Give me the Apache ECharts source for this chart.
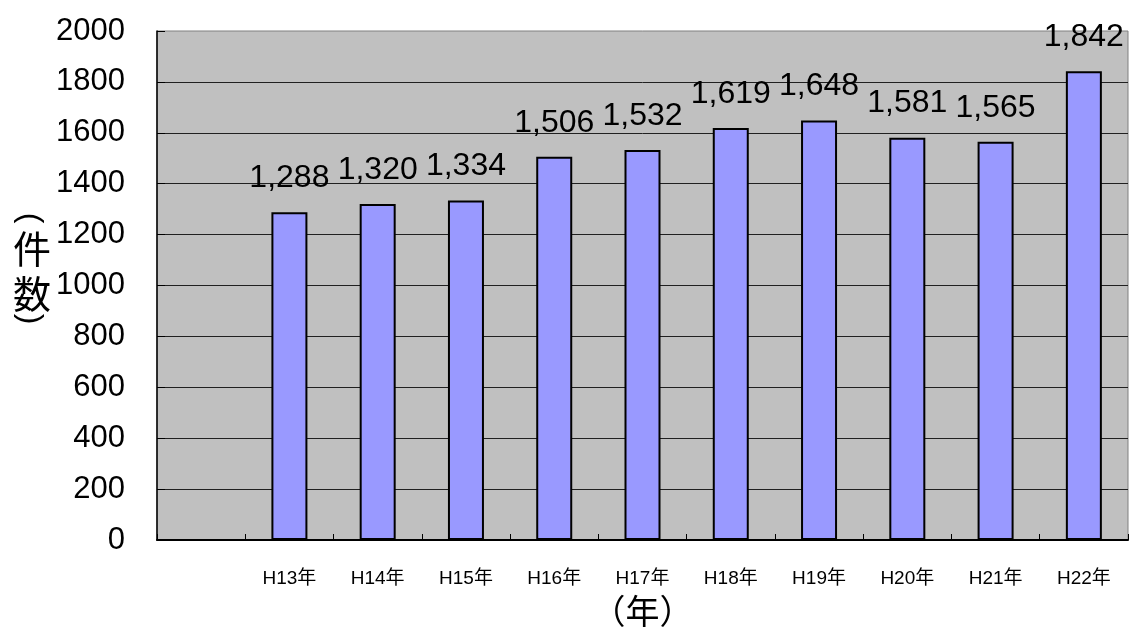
<!DOCTYPE html>
<html>
<head>
<meta charset="utf-8">
<script src="https://cdn.jsdelivr.net/npm/echarts@6/dist/echarts.min.js"></script>
<style>
html,body{margin:0;padding:0;background:#fff;}
#c{width:1130px;height:628px;}
</style>
</head>
<body>
<div id="c"></div>
<script>
const categories = ['', 'H13年', 'H14年', 'H15年', 'H16年', 'H17年', 'H18年', 'H19年', 'H20年', 'H21年', 'H22年'];
const counts = [null, 1288, 1320, 1334, 1506, 1532, 1619, 1648, 1581, 1565, 1842];
const yTicks = { min: 0, max: 2000, interval: 200 };
const xAxisTitle = '（年）';
const yAxisTitleWord = ['件', '数'];
const yAxisTitleParens = ['(', ')'];

const FONT = "'Liberation Sans', 'Noto Sans CJK JP', sans-serif";
const chart = echarts.init(document.getElementById('c'), null, { renderer: 'canvas' });

const titleGraphics = [
  { type: 'text', x: 30, y: 218, rotation: -Math.PI / 2,
    style: { text: yAxisTitleParens[0], fill: '#000', font: "32px 'Liberation Sans', sans-serif", align: 'center', verticalAlign: 'middle' } },
  { type: 'text', x: 32, y: 249,
    style: { text: yAxisTitleWord[0], fill: '#000', font: "38px 'Noto Sans CJK JP', sans-serif", align: 'center', verticalAlign: 'middle' } },
  { type: 'text', x: 32, y: 294,
    style: { text: yAxisTitleWord[1], fill: '#000', font: "38px 'Noto Sans CJK JP', sans-serif", align: 'center', verticalAlign: 'middle' } },
  { type: 'text', x: 30, y: 319, rotation: -Math.PI / 2,
    style: { text: yAxisTitleParens[1], fill: '#000', font: "32px 'Liberation Sans', sans-serif", align: 'center', verticalAlign: 'middle' } }
];

chart.setOption({
  animation: false,
  backgroundColor: '#ffffff',
  grid: {
    left: 157, right: 2, top: 31, bottom: 88,
    show: true, backgroundColor: '#C0C0C0', borderColor: '#808080', borderWidth: 1,
    containLabel: false,
    outerBoundsMode: 'none'
  },
  xAxis: {
    type: 'category',
    data: categories,
    boundaryGap: true,
    axisLine: { show: true, lineStyle: { color: '#000', width: 2 } },
    axisTick: { show: true, inside: true, length: 6, lineStyle: { color: '#000', width: 1 } },
    axisLabel: { color: '#000', fontSize: 19, fontFamily: FONT, margin: 29, interval: 0 },
    splitLine: { show: false },
    name: xAxisTitle,
    nameLocation: 'middle',
    nameGap: 52,
    nameTextStyle: { color: '#000', fontSize: 34, fontFamily: "'Noto Sans CJK JP', sans-serif", lineHeight: 36 }
  },
  yAxis: {
    type: 'value',
    min: yTicks.min, max: yTicks.max, interval: yTicks.interval,
    axisLine: { show: true, lineStyle: { color: '#000', width: 1.5 } },
    axisTick: { show: true, inside: true, length: 8, lineStyle: { color: '#000' } },
    axisLabel: { color: '#000', fontSize: 31, fontFamily: FONT, margin: 32, formatter: v => String(v) },
    splitLine: { show: true, showMinLine: false, showMaxLine: false, lineStyle: { color: '#202020', width: 1 } }
  },
  graphic: titleGraphics,
  series: [{
    type: 'bar',
    data: counts,
    barWidth: 36,
    itemStyle: { color: '#9999FF', borderColor: '#000', borderWidth: 2 },
    label: {
      show: true,
      position: 'top',
      distance: 18,
      color: '#000',
      fontSize: 32,
      fontFamily: FONT,
      formatter: p => p.value == null ? '' : p.value.toLocaleString('en-US')
    }
  }]
});
</script>
</body>
</html>
